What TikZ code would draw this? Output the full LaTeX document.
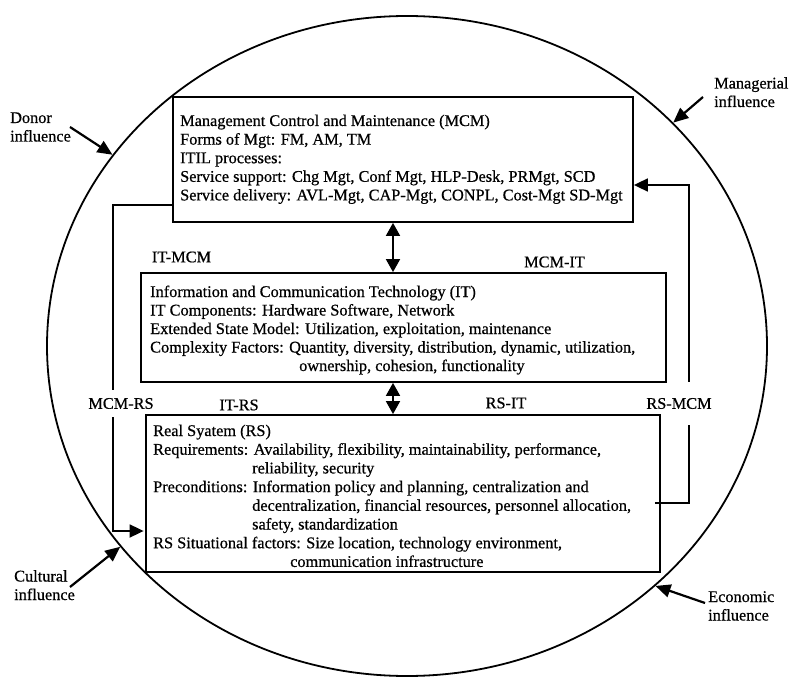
\documentclass[tikz,border=0pt]{standalone}
\usepackage{fontspec}
\setmainfont{Liberation Serif}
\newfontfamily\heavyserif[FakeBold=0.6]{Liberation Serif}
\usetikzlibrary{arrows.meta,shapes.geometric,calc}
\begin{document}
\begin{tikzpicture}[x=1pt,y=-1pt,
  every node/.style={font=\heavyserif\fontsize{16.3}{18.5}\selectfont, inner sep=0pt},
  box/.style={draw, rectangle, line width=1.8pt},
  txt/.style={anchor=base west},
  conn/.style={line width=1.8pt},
  tip/.style={-{Triangle[length=14pt,width=13pt]}},
  dbl/.style={{Triangle[length=13pt,width=14pt]}-{Triangle[length=13pt,width=14pt]}},
  infl/.style={line width=2.2pt,-{Triangle[length=15pt,width=13pt]}}]
\useasboundingbox (0,0) rectangle (790,679);

% outer ring
\node[draw, ellipse, line width=1.8pt, minimum width=720pt, minimum height=660pt] (ring) at (407,346) {};

% boxes
\node[box, minimum width=460pt, minimum height=125pt] (mcm) at (403,159.5) {};
\node[box, minimum width=525pt, minimum height=109pt] (it) at (403.5,327.5) {};
\node[box, minimum width=514pt, minimum height=157pt] (rs) at (403,493.5) {};

% MCM text
\node[txt] (m1) at (180,126) {Management Control and Maintenance (MCM)};
\node[txt] (m2) at (180,144.6) {Forms of Mgt: FM, AM, TM};
\node[txt] (m3) at (180,163.2) {ITIL processes:};
\node[txt] (m4) at (180,181.8) {Service support: Chg Mgt, Conf Mgt, HLP-Desk, PRMgt, SCD};
\node[txt] (m5) at (180,200.4) {Service delivery: AVL-Mgt, CAP-Mgt, CONPL, Cost-Mgt SD-Mgt};

% IT text
\node[txt] (i1) at (150,297) {Information and Communication Technology (IT)};
\node[txt] (i2) at (150,315.5) {IT Components: Hardware Software, Network};
\node[txt] (i3) at (150,334) {Extended State Model: Utilization, exploitation, maintenance};
\node[txt] (i4) at (150,352.5) {Complexity Factors: Quantity, diversity, distribution, dynamic, utilization,};
\node[txt] (i5) at (299,371) {ownership, cohesion, functionality};

% RS text
\node[txt] (r1) at (153,436) {Real Syatem (RS)};
\node[txt] (r2) at (153,454.7) {Requirements: Availability, flexibility, maintainability, performance,};
\node[txt] (r3) at (252,473.4) {reliability, security};
\node[txt] (r4) at (153,492.1) {Preconditions: Information policy and planning, centralization and};
\node[txt] (r5) at (252,510.8) {decentralization, financial resources, personnel allocation,};
\node[txt] (r6) at (252,529.5) {safety, standardization};
\node[txt] (r7) at (153,548.2) {RS Situational factors: Size location, technology environment,};
\node[txt] (r8) at (290,566.9) {communication infrastructure};

% vertical double arrows
\coordinate (ax) at (393,0);
\draw[conn,dbl] (ax |- mcm.south) -- (ax |- it.north);
\draw[conn,dbl] (ax |- it.south) -- (ax |- rs.north);

% connector labels
\node (itmcm) at (181.5,257) {IT-MCM};
\node (mcmit) at (554.5,262) {MCM-IT};
\node (itrs) at (239,405) {IT-RS};
\node (rsit) at (506,403) {RS-IT};
\node[minimum height=27pt] (mcmrs) at (121,403.5) {MCM-RS};
\node[minimum height=43pt] (rsmcm) at (679,403.5) {RS-MCM};

% left connector MCM -> RS
\coordinate (lt) at (113,205);
\coordinate (lb) at (113,531);
\draw[conn] (mcm.west |- lt) -- (lt) -- (lt |- mcmrs.north);
\draw[conn,tip,shorten >=1.5pt] (lt |- mcmrs.south) -- (lb) -- (rs.west |- lb);

% right connector RS -> MCM
\coordinate (rb) at (689,503);
\coordinate (rt) at (689,185);
\draw[conn] ($(rs.east |- rb)+(-6,0)$) -- (rb) -- (rb |- rsmcm.south);
\draw[conn,tip] (rt |- rsmcm.north) -- (rt) -- (mcm.east |- rt);

% influences
\node[txt] (don1) at (10,123) {Donor};
\node[txt] (don2) at (10,141.5) {influence};
\coordinate (dtail) at (70,127);
\draw[infl] (dtail) -- (ring.147.5);

\node[txt] (man1) at (714,88.5) {Managerial};
\node[txt] (man2) at (714,107) {influence};
\coordinate (mtail) at (703,97);
\draw[infl] (mtail) -- (ring.40.9);

\node[txt] (cul1) at (14,581.5) {Cultural};
\node[txt] (cul2) at (14,600) {influence};
\coordinate (ctail) at (70,587);
\draw[infl] (ctail) -- (ring.215.5);

\node[txt] (eco1) at (708,602) {Economic};
\node[txt] (eco2) at (708,620.5) {influence};
\coordinate (etail) at (705,603);
\draw[infl] (etail) -- (ring.316.6);
\end{tikzpicture}
\end{document}
